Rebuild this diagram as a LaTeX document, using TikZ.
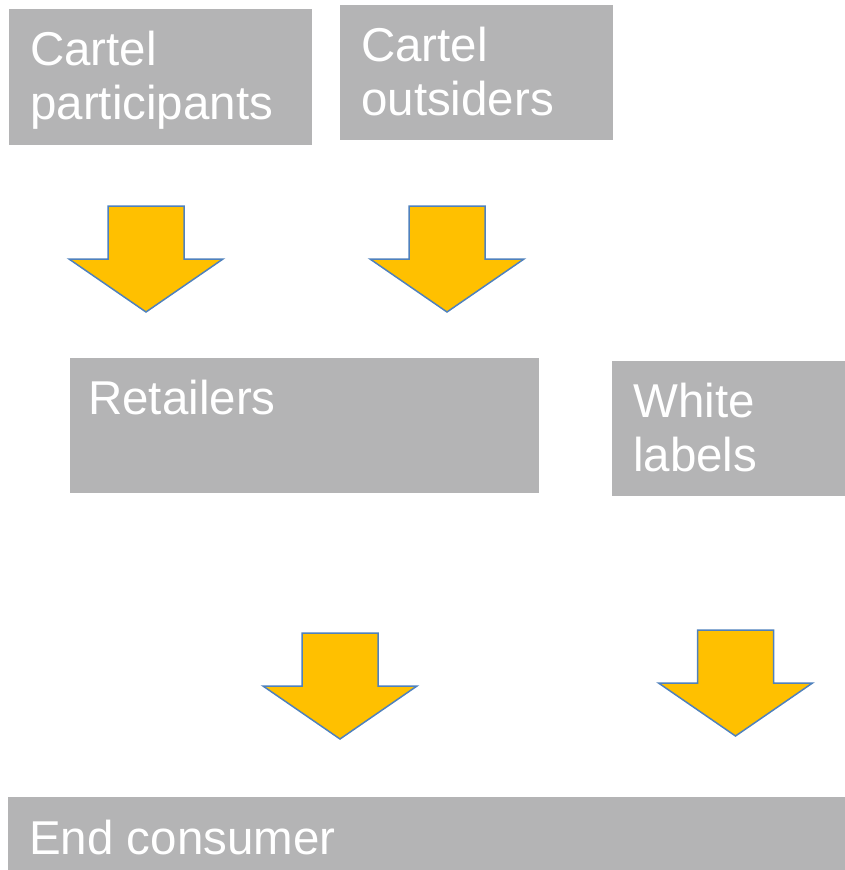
\documentclass[tikz,border=0pt]{standalone}
\usepackage{fontspec}
\setmainfont{Liberation Sans}
\usetikzlibrary{positioning}
\definecolor{boxgray}{RGB}{180,180,181}
\definecolor{arrowgold}{RGB}{255,192,0}
\definecolor{arrowblue}{RGB}{79,129,189}
\tikzset{stage/.style={rectangle, fill=boxgray, inner sep=0pt, anchor=north west},
  stage text/.style={text=white, inner sep=0pt, align=left, font=\fontsize{47.5}{54}\selectfont},
  flow/.pic={\draw[fill=arrowgold, draw=arrowblue, line width=1.5pt]
    (-38,0) -- (38,0) -- (38,53) -- (77,53) -- (0,106) -- (-77,53) -- (-38,53) -- cycle;},}

\begin{document}
\begin{tikzpicture}[x=1pt,y=-1pt]
  \useasboundingbox (0,0) rectangle (845,870);
  % suppliers
  \node[stage, minimum width=303pt, minimum height=136pt] (partic) at (9,9) {};
  \node[stage, minimum width=273pt, minimum height=135pt] (outsid) at (340,5) {};
  % resellers
  \node[stage, minimum width=469pt, minimum height=135pt] (retail) at (70,358) {};
  \node[stage, minimum width=233pt, minimum height=135pt] (whitel) at (612,361) {};
  % bottom of the chain
  \node[stage, minimum width=837pt, minimum height=73pt] (endcon) at (8,797) {};

  \node[stage text] (particlbl) [below right = 22pt and 21pt of partic.north west] {Cartel\\participants};
  \node[stage text] (outsidlbl) [below right = 22pt and 21pt of outsid.north west] {Cartel\\outsiders};
  \node[stage text] (retaillbl) [below right = 22pt and 18pt of retail.north west] {Retailers};
  \node[stage text] (whitellbl) [below right = 22pt and 21pt of whitel.north west] {White\\labels};
  \node[stage text] (endconlbl) [below right = 23pt and 21pt of endcon.north west] {End consumer};

  \pic at (146,206) {flow};
  \pic at (447,206) {flow};
  \pic at (340,633) {flow};
  \pic at (735.5,630) {flow};
\end{tikzpicture}
\end{document}
